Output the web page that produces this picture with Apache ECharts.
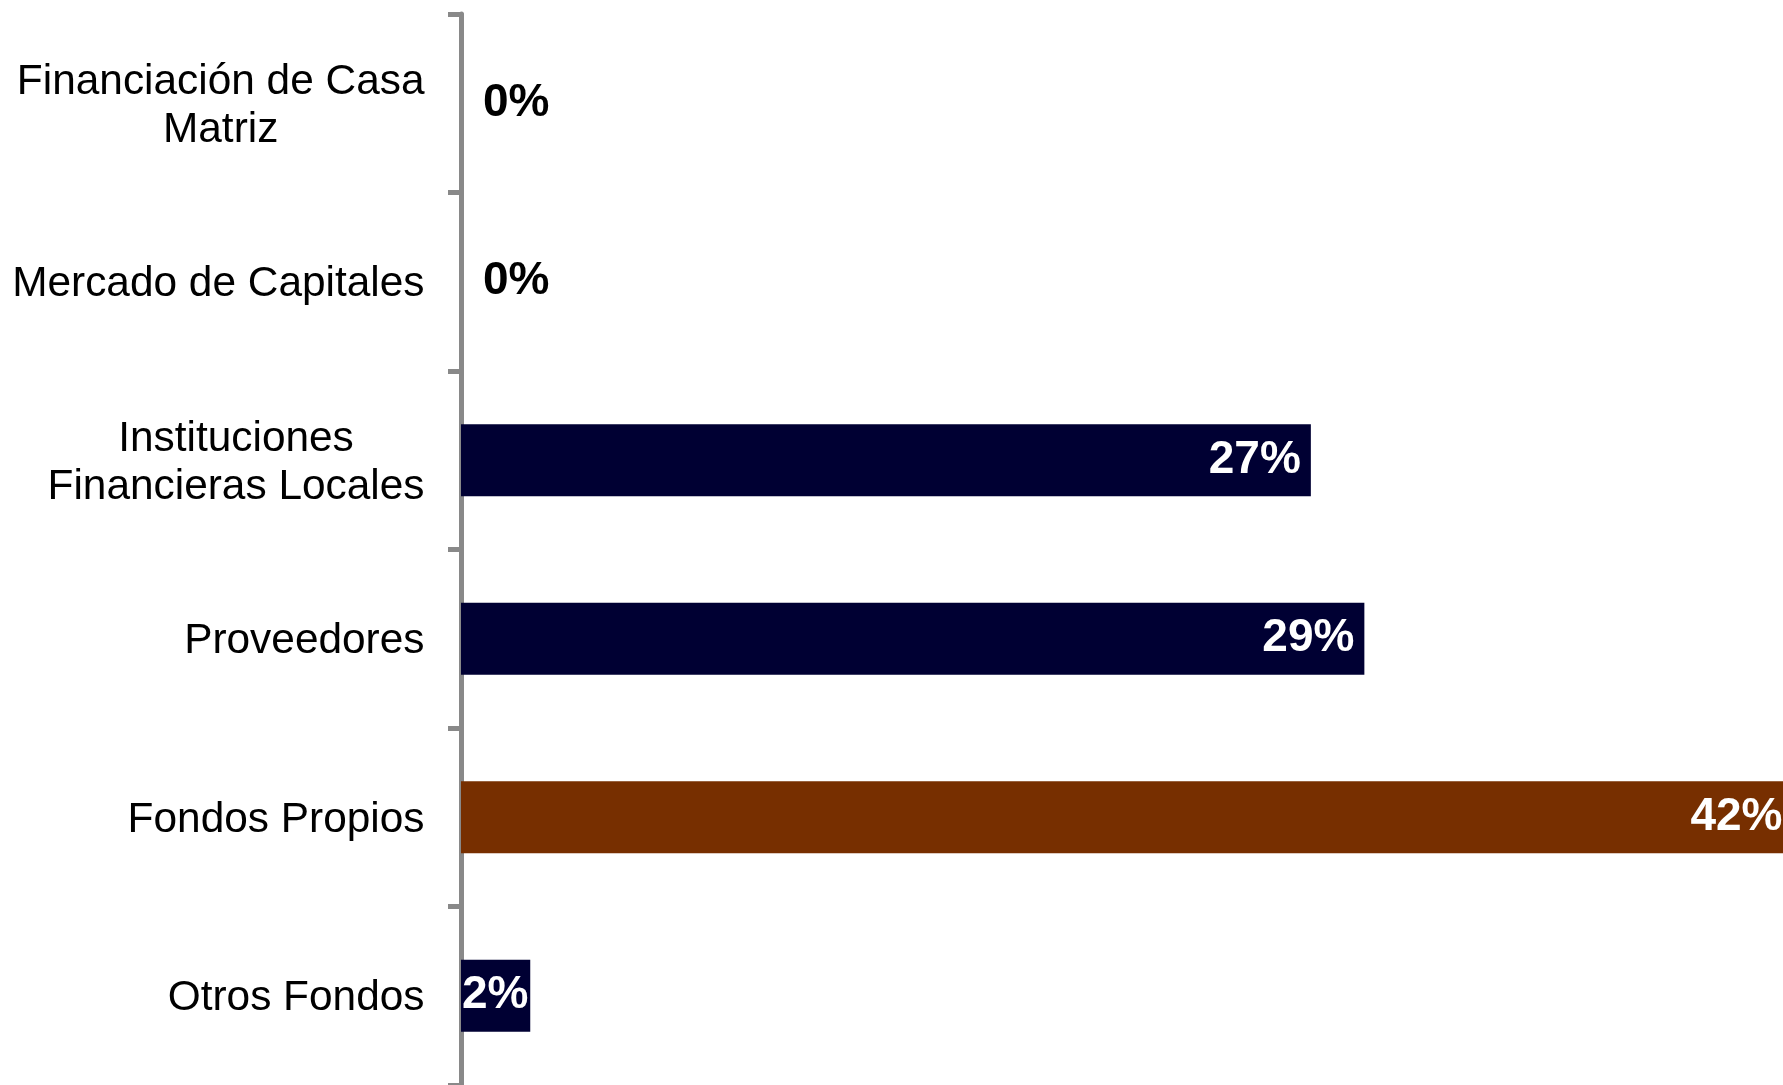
<!DOCTYPE html>
<html>
<head>
<meta charset="utf-8">
<script src="https://cdn.jsdelivr.net/npm/echarts@6/dist/echarts.min.js"></script>
<style>
html,body{margin:0;padding:0;background:#fff;}
#chart{width:1783px;height:1085px;}
</style>
</head>
<body>
<div id="chart"></div>
<script>
const categories = [
  'Financiación de Casa\nMatriz',
  'Mercado de Capitales',
  'Instituciones\nFinancieras Locales',
  'Proveedores',
  'Fondos Propios',
  'Otros Fondos'
];
const values = [0, 0, 27.0, 28.7, 42.3, 2.2];
const highlightCategory = 'Fondos Propios';

const NAVY = '#000033';
const BROWN = '#772F00';
const FONT = '"Liberation Sans", Arial, Helvetica, sans-serif';

const seriesData = values.map((v, i) => {
  let label;
  if (v === 0) {
    label = { position: 'right', distance: 22, color: '#000' };
  } else if (v < 3) {
    label = { position: 'insideLeft', distance: 1, color: '#fff' };
  } else {
    label = { position: 'insideRight', distance: 10, color: '#fff' };
  }
  return {
    value: v,
    itemStyle: { color: categories[i] === highlightCategory ? BROWN : NAVY },
    label
  };
});

const chart = echarts.init(document.getElementById('chart'), null, { renderer: 'canvas' });
chart.setOption({
  backgroundColor: '#fff',
  animation: false,
  grid: { left: 461, right: 0, top: 14, height: 1074, containLabel: false },
  xAxis: {
    type: 'value', min: 0, max: 42,
    show: false
  },
  yAxis: {
    type: 'category',
    data: categories,
    inverse: true,
    offset: 2.5,
    axisLine: { show: true, lineStyle: { color: '#898989', width: 5 } },
    axisTick: { show: true, length: 13, lineStyle: { color: '#898989', width: 5 } },
    axisLabel: {
      margin: 34,
      align: 'right',
      padding: [6, 0, 0, 0],
      formatter: (val) => val.split('\n').map(s => '{c|' + s + '}').join('\n'),
      rich: {
        c: { align: 'center', fontSize: 42.4, lineHeight: 48, color: '#000', fontFamily: FONT }
      }
    },
    splitLine: { show: false }
  },
  series: [{
    type: 'bar',
    data: seriesData,
    barWidth: 72,
    clip: false,
    label: {
      show: true,
      fontSize: 46,
      fontWeight: 'bold',
      fontFamily: FONT,
      formatter: (p) => Math.round(p.value) + '%'
    }
  }]
});
</script>
</body>
</html>
